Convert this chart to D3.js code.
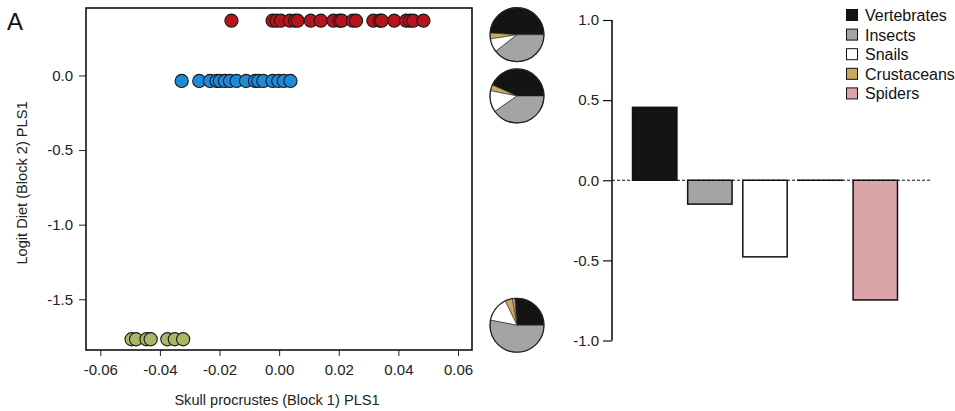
<!DOCTYPE html>
<html>
<head>
<meta charset="utf-8">
<script src="https://cdn.jsdelivr.net/npm/d3@7"></script>
<style>
  body { margin: 0; background: #fff; }
  svg { display: block; font-family: Arial, "Liberation Sans", Helvetica, sans-serif; }
</style>
</head>
<body>
<svg id="chart" width="955" height="411"></svg>
<script>
// ---- Data ----------------------------------------------------------------
// PLS scores per specimen group (Block 1 skull shape vs Block 2 diet)
const redX = [-0.0160, -0.0022, -0.0009, 0.0006, 0.0036, 0.0053, 0.0062, 0.0106, 0.0140,
  0.0182, 0.0202, 0.0210, 0.0247, 0.0258, 0.0316, 0.0338, 0.0344, 0.0386, 0.0426, 0.0439,
  0.0450, 0.0484];
const redY = 0.367;
const blueX = [-0.0327, -0.0268, -0.0232, -0.0210, -0.0199, -0.0182, -0.0165, -0.0143,
  -0.0111, -0.0081, -0.0070, -0.0053, -0.0022, -0.0003, 0.0016, 0.0038];
const blueY = -0.037;
const greenX = [-0.0495, -0.0480, -0.0445, -0.0431, -0.0375, -0.0350, -0.0322];
const greenY = -1.768;

const groupColors = ["#b5141d", "#1f8bd8", "#a9b865"];

// Diet categories and colours
const categories = ["Vertebrates", "Insects", "Snails", "Crustaceans", "Spiders"];
const catColors = ["#141414", "#a4a4a4", "#ffffff", "#c6ab5f", "#dba4a9"];

// Diet composition (proportions) for each group, drawn as pies
const dietRed = { Vertebrates: 0.49, Spiders: 0.0, Crustaceans: 0.036, Snails: 0.08, Insects: 0.394 };
const dietBlue = { Vertebrates: 0.433, Spiders: 0.0, Crustaceans: 0.036, Snails: 0.128, Insects: 0.403 };
const dietGreen = { Vertebrates: 0.263, Spiders: 0.015, Crustaceans: 0.044, Snails: 0.148, Insects: 0.53 };
const pieOrder = ["Vertebrates", "Spiders", "Crustaceans", "Snails", "Insects"];

// PLS1 loadings of diet categories
const loadings = [0.455, -0.149, -0.478, 0.0, -0.747];

const xTicks = [-0.06, -0.04, -0.02, 0.00, 0.02, 0.04, 0.06];
const yTicks = [0.0, -0.5, -1.0, -1.5];
const barTicks = [1.0, 0.5, 0.0, -0.5, -1.0];

// ---- Left panel: scatter --------------------------------------------------
const svg = d3.select("#chart");
const box = { left: 86, right: 472, top: 8, bottom: 350 };

const x = d3.scaleLinear().domain([-0.0648, 0.0647]).range([box.left, box.right]);
const y = d3.scaleLinear().domain([0.452, -1.84]).range([box.top, box.bottom]);

svg.append("text").attr("x", 7).attr("y", 30).attr("font-size", 24).attr("fill", "#111").text("A");

// x axis
const xAxis = svg.append("g")
  .attr("transform", `translate(0,${box.bottom})`)
  .call(d3.axisBottom(x).tickValues(xTicks).tickSize(6).tickPadding(8)
    .tickFormat(d => d.toFixed(2)));
xAxis.select(".domain").remove();
xAxis.selectAll("line").attr("stroke", "#222");
xAxis.selectAll("text").attr("font-size", 15).attr("fill", "#222").attr("font-family", null);

// y axis
const yAxis = svg.append("g")
  .attr("transform", `translate(${box.left},0)`)
  .call(d3.axisLeft(y).tickValues(yTicks).tickSize(7).tickPadding(6)
    .tickFormat(d => d.toFixed(1)));
yAxis.select(".domain").remove();
yAxis.selectAll("line").attr("stroke", "#222");
yAxis.selectAll("text").attr("font-size", 15).attr("fill", "#222").attr("font-family", null);

svg.append("rect")
  .attr("x", box.left).attr("y", box.top)
  .attr("width", box.right - box.left).attr("height", box.bottom - box.top)
  .attr("fill", "none").attr("stroke", "#111").attr("stroke-width", 1.6);

svg.append("text")
  .attr("x", (box.left + box.right) / 2 - 2).attr("y", 405)
  .attr("text-anchor", "middle").attr("font-size", 14.6).attr("fill", "#222")
  .text("Skull procrustes (Block 1) PLS1");

svg.append("text")
  .attr("transform", `translate(27,${(box.top + box.bottom) / 2 + 4}) rotate(-90)`)
  .attr("text-anchor", "middle").attr("font-size", 14.6).attr("fill", "#222")
  .text("Logit Diet (Block 2) PLS1");

const groups = [
  { xs: redX, yv: redY, color: groupColors[0] },
  { xs: blueX, yv: blueY, color: groupColors[1] },
  { xs: greenX, yv: greenY, color: groupColors[2] }
];
groups.forEach(g => {
  svg.append("g").selectAll("circle")
    .data(g.xs).join("circle")
    .attr("cx", d => x(d)).attr("cy", y(g.yv)).attr("r", 6.6)
    .attr("fill", g.color).attr("stroke", "#1a1a1a").attr("stroke-width", 1.1);
});

// ---- Diet pies beside the scatter ----------------------------------------
const pieX = 517;
const pieR = 27;
const pieOffsets = [14, 15, -14];
const pieGen = d3.pie().sort(null).value(d => d.v)
  .startAngle(Math.PI / 2).endAngle(Math.PI / 2 - 2 * Math.PI);
const arc = d3.arc().innerRadius(0).outerRadius(pieR);
const catColor = d3.scaleOrdinal().domain(categories).range(catColors);

[[dietRed, redY], [dietBlue, blueY], [dietGreen, greenY]].forEach(([diet, yv], i) => {
  const data = pieOrder.map(k => ({ k, v: diet[k] }));
  const g = svg.append("g").attr("transform", `translate(${pieX},${y(yv) + pieOffsets[i]})`);
  g.selectAll("path").data(pieGen(data).filter(d => d.data.v > 0)).join("path")
    .attr("d", arc).attr("fill", d => catColor(d.data.k))
    .attr("stroke", "#222").attr("stroke-width", 0.6);
  g.append("circle").attr("r", pieR).attr("fill", "none")
    .attr("stroke", "#222").attr("stroke-width", 1.2);
});

// ---- Right panel: loadings bar chart ---------------------------------------
const axisX = 612;
const yb = d3.scaleLinear().domain([1, -1]).range([20, 340.5]);
const xb = d3.scaleBand().domain(categories).range([627, 903]).paddingInner(0.195).paddingOuter(0.1);

const bAxis = svg.append("g")
  .attr("transform", `translate(${axisX},0)`)
  .call(d3.axisLeft(yb).tickValues(barTicks).tickSize(9).tickPadding(4)
    .tickFormat(d => d.toFixed(1)));
bAxis.select(".domain").attr("stroke", "#111").attr("stroke-width", 1.6)
  .attr("d", `M0,${yb(1)}V${yb(-1)}`);
bAxis.selectAll("line").attr("stroke", "#111").attr("stroke-width", 1.2);
bAxis.selectAll("text").attr("font-size", 15).attr("fill", "#222").attr("font-family", null);

// zero reference line (under the bars)
svg.append("line")
  .attr("x1", axisX).attr("x2", 930).attr("y1", yb(0)).attr("y2", yb(0))
  .attr("stroke", "#111").attr("stroke-width", 1.1).attr("stroke-dasharray", "3,2");

// bars; a zero loading still shows its outline as a flat line
svg.append("g").selectAll("rect")
  .data(categories).join("rect")
  .attr("x", d => xb(d))
  .attr("y", (d, i) => yb(Math.max(0, loadings[i])))
  .attr("width", xb.bandwidth())
  .attr("height", (d, i) => Math.max(0.01, Math.abs(yb(loadings[i]) - yb(0))))
  .attr("fill", (d, i) => catColors[i])
  .attr("stroke", "#111").attr("stroke-width", 1.5);

// legend
const legend = svg.append("g").attr("transform", "translate(846,9)");
categories.forEach((c, i) => {
  const row = legend.append("g").attr("transform", `translate(0,${i * 19.6})`);
  row.append("rect").attr("x", 0.5).attr("y", 0.5).attr("width", 11).attr("height", 11)
    .attr("fill", catColors[i]).attr("stroke", "#111").attr("stroke-width", 1);
  row.append("text").attr("x", 19).attr("y", 12)
    .attr("font-size", 16).attr("fill", "#111").text(c);
});
</script>
</body>
</html>
